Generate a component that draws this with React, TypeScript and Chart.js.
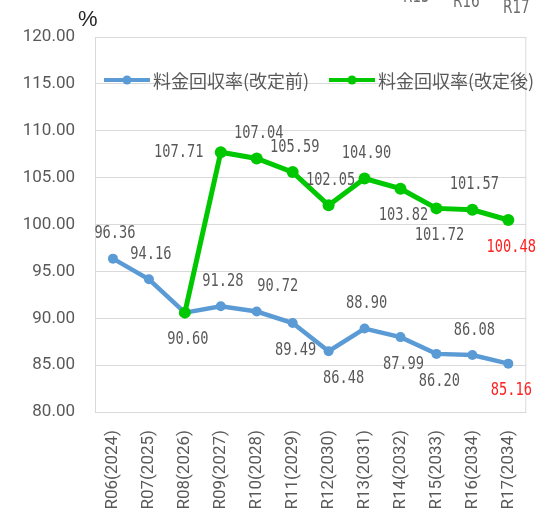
import React, { useEffect, useRef } from "react";
import { Chart, registerables } from "chart.js";

Chart.register(...registerables);

const categories = [
  "R06(2024)", "R07(2025)", "R08(2026)", "R09(2027)", "R10(2028)", "R11(2029)",
  "R12(2030)", "R13(2031)", "R14(2032)", "R15(2033)", "R16(2034)", "R17(2034)",
];
const beforeRevision = [96.36, 94.16, 90.6, 91.28, 90.72, 89.49, 86.48, 88.9, 87.99, 86.2, 86.08, 85.16];
const afterRevision = [null, null, 90.6, 107.71, 107.04, 105.59, 102.05, 104.9, 103.82, 101.72, 101.57, 100.48];
const beforeLabelPlace = ["t", "t", "b", "t", "tr", "b", "br", "t", "b", "b", "t", "b"];
const afterLabelPlace = ["", "", "", "l", "t", "t", "t", "t", "b", "b", "t", "b"];
const yTicks = [80, 85, 90, 95, 100, 105, 110, 115, 120];
const seriesNames = ["料金回収率(改定前)", "料金回収率(改定後)"];
const BLUE = "#5b9bd5";
const GREEN = "#00c800";

const offsets: Record<string, [number, number]> = {
  t: [2, -25],
  b: [3, 27],
  tr: [21, -25],
  br: [15, 27],
  l: [-42, 0],
};

const overlay = {
  id: "overlay",
  beforeDatasetsDraw(chart: any) {
    const { ctx, chartArea } = chart;
    ctx.save();
    ctx.strokeStyle = "#d9d9d9";
    ctx.lineWidth = 1;
    ctx.strokeRect(chartArea.left + 0.5, chartArea.top + 0.5, chartArea.right - chartArea.left - 1, chartArea.bottom - chartArea.top);
    ctx.restore();
  },
  afterDatasetsDraw(chart: any) {
    const { ctx } = chart;
    ctx.save();
    const drawLabels = (dsIndex: number, values: (number | null)[], places: string[]) => {
      const meta = chart.getDatasetMeta(dsIndex);
      values.forEach((v, i) => {
        if (v == null || !places[i]) return;
        const pt = meta.data[i];
        const [dx, dy] = offsets[places[i]];
        const isLast = i === values.length - 1;
        ctx.save();
        ctx.translate(pt.x + dx, pt.y + dy);
        ctx.scale(0.76, 1);
        ctx.font = "18px 'DejaVu Sans Mono'";
        ctx.fillStyle = isLast ? "#ff2020" : "#595959";
        ctx.textAlign = "center";
        ctx.textBaseline = "middle";
        ctx.fillText(v.toFixed(2), 0, 0);
        ctx.restore();
      });
    };
    drawLabels(0, beforeRevision, beforeLabelPlace);
    drawLabels(1, afterRevision, afterLabelPlace);

    // legend inside the plot area
    const ly = 80;
    const colors = [BLUE, GREEN];
    const starts = [104, 329];
    ctx.font = "18px 'Noto Sans CJK JP'";
    ctx.textBaseline = "middle";
    ctx.textAlign = "left";
    colors.forEach((c, k) => {
      const x0 = starts[k];
      ctx.strokeStyle = c;
      ctx.lineWidth = 4;
      ctx.beginPath();
      ctx.moveTo(x0, ly);
      ctx.lineTo(x0 + 46, ly);
      ctx.stroke();
      ctx.fillStyle = c;
      ctx.beginPath();
      ctx.arc(x0 + 23, ly, 4.5, 0, Math.PI * 2);
      ctx.fill();
      ctx.fillStyle = "#595959";
      ctx.fillText(seriesNames[k], x0 + 49, ly + 1);
    });

    // unit
    ctx.fillStyle = "#262626";
    ctx.font = "22px 'Liberation Sans'";
    ctx.textAlign = "left";
    ctx.textBaseline = "alphabetic";
    ctx.fillText("%", 78, 26);

    // clipped fragments at top-right
    ctx.fillStyle = "#6b6b6b";
    ctx.font = "20px 'DejaVu Sans'";
    const frags: [string, number, number][] = [["R15", 403, 2], ["R16", 453, 7], ["R17", 503, 13]];
    frags.forEach(([t, x, y]) => {
      ctx.save();
      ctx.translate(x, y);
      ctx.scale(0.68, 1);
      ctx.fillText(t, 0, 0);
      ctx.restore();
    });
    ctx.restore();
  },
};

export default function App() {
  const ref = useRef<HTMLCanvasElement>(null);
  useEffect(() => {
    if (!ref.current) return;
    const chart = new Chart(ref.current, {
      type: "line",
      data: {
        labels: categories,
        datasets: [
          {
            label: seriesNames[0],
            data: beforeRevision,
            borderColor: BLUE,
            backgroundColor: BLUE,
            borderWidth: 4.5,
            pointRadius: 5,
            pointBorderWidth: 0,
            order: 1,
            tension: 0,
          },
          {
            label: seriesNames[1],
            data: afterRevision,
            borderColor: GREEN,
            backgroundColor: GREEN,
            borderWidth: 5,
            pointRadius: 6,
            pointBorderWidth: 0,
            order: 0,
            tension: 0,
          },
        ],
      },
      options: {
        animation: false,
        responsive: false,
        maintainAspectRatio: false,
        layout: { padding: { top: 37, right: 7, left: 0, bottom: 0 } },
        plugins: {
          legend: { display: false },
          tooltip: { enabled: false },
        },
        scales: {
          x: {
            offset: true,
            grid: { display: false, drawTicks: false },
            border: { display: false },
            ticks: {
              minRotation: 90,
              maxRotation: 90,
              padding: 18,
              color: "#595959",
              font: { family: "Roboto", size: 17 },
            },
            afterFit(scale: any) {
              scale.height = 101;
            },
          },
          y: {
            min: 80,
            max: 120,
            afterBuildTicks(scale: any) {
              scale.ticks = yTicks.map((v) => ({ value: v }));
            },
            grid: { color: "#d9d9d9", lineWidth: 1, drawTicks: false },
            border: { display: false },
            ticks: {
              padding: 20,
              color: "#595959",
              font: { family: "Roboto", size: 17 },
              callback: (v: any) => Number(v).toFixed(2),
            },
            afterFit(scale: any) {
              scale.width = 95;
            },
          },
        },
      },
      plugins: [overlay],
    });
    return () => chart.destroy();
  }, []);
  return (
    <div style={{ position: "fixed", left: 0, top: 0, width: 547, height: 513, background: "#fff" }}>
      <canvas ref={ref} width={547} height={513} style={{ display: "block" }} />
    </div>
  );
}
